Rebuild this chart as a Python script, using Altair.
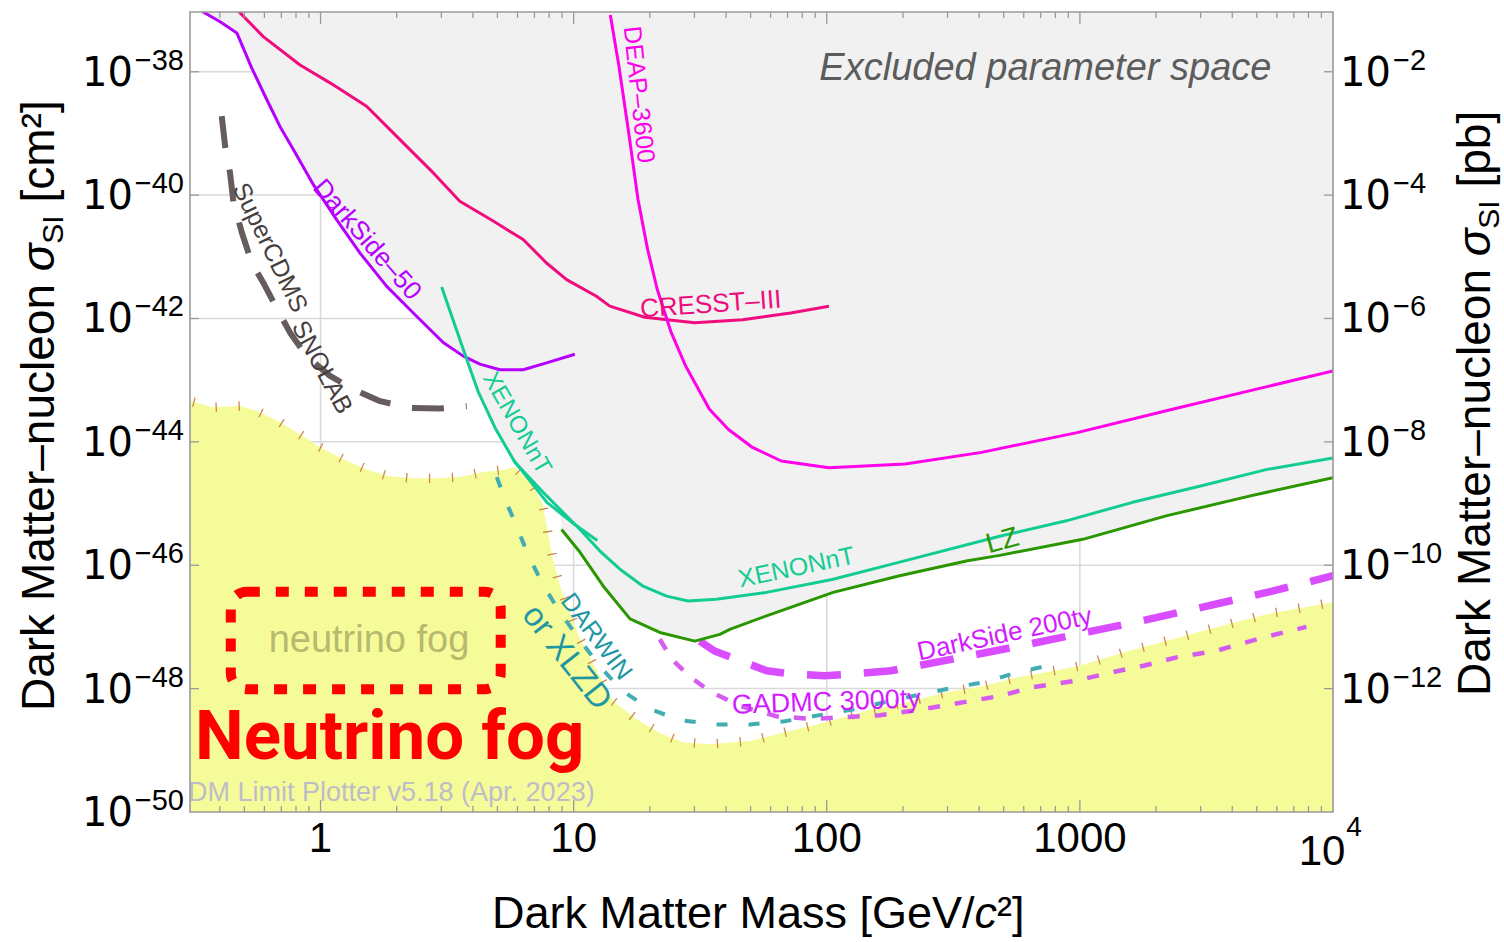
import numpy as np
import pandas as pd
import altair as alt

# ---------------------------------------------------------------
# Data.  Masses in GeV/c^2,
# cross sections stored as log10(sigma / cm^2).
# ---------------------------------------------------------------
ds50_mass = [0.340, 0.401, 0.467, 0.535, 0.613, 0.692, 0.781, 0.937, 1.159, 1.432,
             1.826, 2.325, 3.053, 3.664, 4.264, 5.112, 6.318, 7.816, 10.11]
ds50_logsig = [-37.02, -37.19, -37.37, -37.94, -38.45, -38.89, -39.26, -39.83, -40.40, -40.94,
               -41.48, -41.91, -42.39, -42.61, -42.74, -42.83, -42.83, -42.72, -42.58]

cresst_mass = [0.474, 0.594, 0.830, 1.09, 1.52, 2.19, 2.79, 3.55, 4.81, 6.32,
               7.81, 9.38, 12.3, 13.9, 19.1, 30.1, 46.5, 72.0, 102]
cresst_logsig = [-37.02, -37.43, -37.89, -38.18, -38.56, -39.21, -39.64, -40.10, -40.42, -40.72,
                 -41.10, -41.37, -41.64, -41.80, -41.98, -42.07, -42.02, -41.91, -41.80]

deap_mass = [13.96, 15.1, 16.5, 17.96, 19.6, 21.4, 24.3, 27.7, 34.4, 40.9,
             50.9, 66.1, 102, 204, 409, 975, 2320, 5540, 10000]
deap_logsig = [-37.08, -37.91, -38.99, -40.07, -40.88, -41.53, -42.23, -42.77, -43.47, -43.80,
               -44.09, -44.31, -44.42, -44.36, -44.17, -43.85, -43.47, -43.10, -42.85]

xenon_mass = [3.01, 3.78, 4.19, 4.89, 5.86, 7.84, 10.6, 12.7, 15.2, 18.8, 23.3,
              28.3, 36.6, 57.7, 105, 194, 482, 884, 1615, 2972, 5440, 10000]
xenon_logsig = [-41.49, -42.66, -43.18, -43.77, -44.33, -44.88, -45.42, -45.77, -46.06, -46.34, -46.50,
                -46.58, -46.55, -46.44, -46.23, -45.95, -45.53, -45.28, -44.98, -44.72, -44.45, -44.26]

xenon_low_mass = [5.75, 7.84, 10.1, 12.4]
xenon_low_logsig = [-44.28, -44.98, -45.34, -45.60]

lz_mass = [8.96, 10.6, 13.1, 16.7, 21.9, 30.1, 37.8, 41.4, 57.8, 106,
           194, 356, 482, 1027, 2190, 4670, 10000]
lz_logsig = [-45.42, -45.79, -46.34, -46.87, -47.09, -47.23, -47.12, -47.04, -46.82, -46.44,
             -46.17, -45.93, -45.84, -45.58, -45.20, -44.88, -44.58]

cdms_mass = [0.407, 0.420, 0.439, 0.453, 0.489, 0.535, 0.594, 0.671, 0.758, 0.882,
             1.09, 1.35, 1.72, 2.26, 2.96, 3.78]
cdms_logsig = [-38.72, -39.21, -39.64, -40.12, -40.61, -41.10, -41.42, -41.83, -42.23, -42.61,
               -42.93, -43.15, -43.34, -43.45, -43.46, -43.42]

ds200_mass = [31.5, 36.0, 43.7, 57.9, 72.0, 98.1, 121, 179, 222, 344, 578, 1205, 1672, 2825, 5760, 10000]
ds200_logsig = [-47.23, -47.39, -47.52, -47.71, -47.76, -47.79, -47.77, -47.71, -47.64, -47.49,
                -47.31, -47.04, -46.92, -46.71, -46.42, -46.17]

gadmc_mass = [21.9, 24.4, 28.8, 35.1, 45.3, 63.4, 87.9, 120, 162, 218, 314, 482, 644, 975,
              1322, 1783, 2430, 3434, 5310, 7850]
gadmc_logsig = [-47.20, -47.52, -47.81, -48.06, -48.28, -48.45, -48.49, -48.46, -48.43, -48.36,
                -48.25, -48.12, -47.98, -47.87, -47.74, -47.63, -47.49, -47.39, -47.17, -47.00]

darwin_mass = [4.97, 5.35, 5.86, 6.59, 7.55, 8.82, 10.4, 12.7, 15.5, 20.0, 26.3, 36.1, 49.6,
               68.2, 93.7, 130, 174, 237, 320, 424, 552, 794]
darwin_logsig = [-44.57, -44.93, -45.30, -45.82, -46.31, -46.76, -47.17, -47.64, -48.03, -48.33,
                 -48.51, -48.58, -48.58, -48.53, -48.43, -48.33, -48.21, -48.09, -47.98, -47.89,
                 -47.75, -47.60]

fog_mass = [0.305, 0.376, 0.481, 0.561, 0.692, 0.830, 1.0, 1.23, 1.53, 1.83, 2.32, 2.88, 3.55,
            4.38, 5.35, 5.86, 6.84, 7.55, 7.91, 8.28, 8.83, 9.66, 10.6, 12.4, 14.3, 17.6, 21.9,
            27.0, 34.5, 49.6, 69.5, 100, 144, 207, 298, 413, 578, 975, 1500, 2320, 3590, 5530, 10000]
fog_logsig = [-43.34, -43.44, -43.42, -43.50, -43.68, -43.88, -44.09, -44.28, -44.45, -44.55,
              -44.59, -44.59, -44.57, -44.49, -44.45, -44.41, -44.69, -45.01, -45.47, -45.90,
              -46.34, -46.76, -47.20, -47.72, -48.20, -48.49, -48.72, -48.87, -48.90, -48.85,
              -48.70, -48.54, -48.36, -48.22, -48.06, -47.96, -47.81, -47.64, -47.41, -47.20,
              -46.99, -46.79, -46.60]

# lower edge of the excluded (grey) region
excl_mass = [0.340, 0.401, 0.467, 0.535, 0.613, 0.692, 0.781, 0.937, 1.159, 1.432, 1.826, 2.325,
             3.053, 3.664, 3.78, 4.19, 4.89, 5.86, 7.84, 8.83, 8.96, 10.6, 13.1, 16.7, 21.9, 30.1,
             37.8, 41.4, 57.8, 106, 194, 356, 482, 1027, 2190, 4670, 10000]
excl_logsig = [-37.02, -37.19, -37.37, -37.94, -38.45, -38.89, -39.26, -39.83, -40.40, -40.94,
               -41.48, -41.91, -42.39, -42.61, -42.66, -43.18, -43.77, -44.33, -44.88, -45.11,
               -45.42, -45.79, -46.34, -46.87, -47.09, -47.23, -47.12, -47.04, -46.82, -46.44,
               -46.17, -45.93, -45.84, -45.58, -45.20, -44.88, -44.58]

# axes
x_label_values = [1, 10, 100, 1000]
x_label_texts = ["1", "10", "100", "1000"]
x_major_ticks = [1, 10, 100, 1000]
x_minor_mantissas = [2, 3, 4, 5, 6, 7, 8, 9]
x_minor_decades = [0.1, 1, 10, 100, 1000]
y_left_exponents = [-38, -40, -42, -44, -46, -48, -50]
y_right_exponents = [-2, -4, -6, -8, -10, -12]   # in pb
PB_TO_CM2 = 1e-36

# ---------------------------------------------------------------
W, H = 1143, 800
X_DOMAIN = [0.305, 1e4]
Y_DOMAIN = [1e-50, 9.3e-38]
XS = alt.Scale(type="log", domain=X_DOMAIN, nice=False)
YS = alt.Scale(type="log", domain=Y_DOMAIN, nice=False)
FONT = "Liberation Sans"

C_DS50 = "#b600ff"
C_CRESST = "#f00c7e"
C_DEAP = "#ff00ea"
C_XENON = "#12cc93"
C_LZ = "#2a9600"
C_CDMS = "#655d5d"
C_DS200 = "#d94cff"
C_GADMC = "#d45cf0"
C_DARWIN = "#41adb2"
C_DARWIN_TXT = "#1f97a2"
C_MAG_TXT = "#d21cff"


def X(field="m"):
    return alt.X(f"{field}:Q", scale=XS, axis=None)


def Y(field="s"):
    return alt.Y(f"{field}:Q", scale=YS, axis=None, stack=None)


def frame(m, logs):
    return pd.DataFrame({"m": m, "s": [10.0 ** v for v in logs], "i": list(range(len(m)))})


def curve(m, logs, color, width, dash=None):
    props = dict(color=color, strokeWidth=width, clip=True, strokeCap="butt", strokeJoin="round")
    if dash:
        props["strokeDash"] = dash
    return alt.Chart(frame(m, logs)).mark_line(**props).encode(x=X(), y=Y(), order="i:Q")


def data_text(text, m, s, color, size, angle=0, align="center", baseline="middle",
              font=FONT, dx=0, dy=0, **kw):
    df = pd.DataFrame({"m": [m], "s": [s], "t": [text]})
    return alt.Chart(df).mark_text(color=color, fontSize=size, angle=angle % 360, align=align,
                                   baseline=baseline, font=font, dx=dx, dy=dy, **kw).encode(
        x=X(), y=Y(), text="t:N")


def px_text(text, px, py, color, size, angle=0, align="left", baseline="alphabetic",
            font=FONT, dx=0, dy=0, **kw):
    df = pd.DataFrame({"t": [text]})
    return alt.Chart(df).mark_text(color=color, fontSize=size, angle=angle % 360, align=align,
                                   baseline=baseline, font=font, dx=dx, dy=dy, **kw).encode(
        x=alt.value(px), y=alt.value(py), text="t:N")


def exp_text(e):
    return str(e).replace("-", "−")


layers = []

# grid lines
layers.append(alt.Chart(pd.DataFrame({"m": x_major_ticks})).mark_rule(
    color="#d9d9d9", strokeWidth=1.5).encode(x=X(), y=alt.value(0), y2=alt.value(H)))
layers.append(alt.Chart(pd.DataFrame({"s": [10.0 ** e for e in y_left_exponents[:-1]]})).mark_rule(
    color="#d9d9d9", strokeWidth=1.5).encode(y=Y(), x=alt.value(0), x2=alt.value(W)))

# excluded region (from its lower edge up to the top of the plot)
excl_df = frame(excl_mass, excl_logsig)
excl_df["top"] = Y_DOMAIN[1]
layers.append(alt.Chart(excl_df).mark_area(
    fill="#f1f1f1", orient="vertical", clip=True).encode(
    x=X(), y=Y(), y2="top:Q"))

# neutrino fog (from the floor up to its edge)
fog_df = frame(fog_mass, fog_logsig)
fog_df["floor"] = Y_DOMAIN[0]
layers.append(alt.Chart(fog_df).mark_area(
    fill="#f6fb9a", orient="vertical").encode(
    x=X(), y=Y(), y2="floor:Q"))

# hatch strokes along the fog edge (decoration, spaced along the drawn edge)
lx0, lx1 = np.log10(X_DOMAIN)
ly0, ly1 = np.log10(Y_DOMAIN)
bx = (np.log10(fog_mass) - lx0) / (lx1 - lx0) * W
by = (ly1 - np.array(fog_logsig)) / (ly1 - ly0) * H
seg = np.hypot(np.diff(bx), np.diff(by))
cum = np.concatenate([[0.0], np.cumsum(seg)])
hatch_rows = []
for p in np.arange(4.0, cum[-1] - 3, 23.0):
    k = min(int(np.searchsorted(cum, p, side="right") - 1), len(seg) - 1)
    t = (p - cum[k]) / seg[k]
    hx = bx[k] + t * (bx[k + 1] - bx[k])
    hy = by[k] + t * (by[k + 1] - by[k])
    ang = float(np.degrees(np.arctan2(by[k + 1] - by[k], bx[k + 1] - bx[k])) % 360)
    hatch_rows.append({"m": 10 ** (lx0 + hx / W * (lx1 - lx0)),
                       "s": 10 ** (ly1 - hy / H * (ly1 - ly0)), "a": ang})
layers.append(alt.Chart(pd.DataFrame(hatch_rows)).mark_point(
    shape="M0,-1L0,1", filled=False, stroke="#c88a4e", strokeWidth=1.3, size=90,
    opacity=1, clip=True).encode(x=X(), y=Y(), angle=alt.Angle("a:Q", scale=None)))

# projections (dashed)
layers.append(curve(darwin_mass, darwin_logsig, C_DARWIN, 4, [11, 21]))
layers.append(curve(gadmc_mass, gadmc_logsig, C_GADMC, 4.5, [12, 15]))
layers.append(curve(ds200_mass, ds200_logsig, C_DS200, 7.5, [34, 23]))
layers.append(curve(cdms_mass, cdms_logsig, C_CDMS, 6, [32, 22]))

# current limits
layers.append(curve(cresst_mass, cresst_logsig, C_CRESST, 3))
layers.append(curve(ds50_mass, ds50_logsig, C_DS50, 3))
layers.append(curve(deap_mass, deap_logsig, C_DEAP, 3))
layers.append(curve(xenon_low_mass, xenon_low_logsig, C_XENON, 3))
layers.append(curve(xenon_mass, xenon_logsig, C_XENON, 3))
layers.append(curve(lz_mass, lz_logsig, C_LZ, 3))

# curve labels
layers.append(data_text("Excluded parameter space", 5710, 7.4e-39, "#5c5c5c", 38,
                        align="right", baseline="alphabetic", fontStyle="italic"))
layers.append(data_text("DarkSide–50", 1.526, 1.9e-41, C_DS50, 26, angle=49))
layers.append(data_text("SuperCDMS", 0.632, 1.41e-41, "#463f3f", 25, angle=64))
layers.append(data_text("SNOLAB", 1.014, 1.62e-43, "#463f3f", 25, angle=62))
layers.append(data_text("XENONnT", 5.95, 2.0e-44, C_XENON, 24, angle=60))
layers.append(data_text("CRESST–III", 34.8, 1.69e-42, C_CRESST, 26, angle=-4))
layers.append(data_text("DEAP–3600", 18.1, 4.25e-39, C_DEAP, 25, angle=84))
layers.append(data_text("XENONnT", 75.9, 9.2e-47, C_XENON, 25, angle=-12))
layers.append(data_text("LZ", 495, 2.45e-46, C_LZ, 28, angle=-15))
layers.append(data_text("DARWIN", 12.3, 7.0e-48, C_DARWIN_TXT, 25, angle=53))
layers.append(data_text("or XLZD", 9.38, 3.2e-48, C_DARWIN_TXT, 33, angle=52))
layers.append(data_text("DarkSide 200ty", 504, 7.6e-48, C_MAG_TXT, 26, angle=-12))
layers.append(data_text("GADMC 3000ty", 99.6, 5.97e-49, C_MAG_TXT, 27, angle=-2))

# neutrino-fog annotation
box = pd.DataFrame({"m": [0.442], "m2": [5.15], "s": [3.72e-47], "s2": [9.77e-49]})
layers.append(alt.Chart(box).mark_rect(
    fillOpacity=0, stroke="#ff0000", strokeWidth=10, strokeDash=[13, 16], cornerRadius=16,
    strokeCap="butt").encode(x=X(), x2="m2:Q", y=Y(), y2="s2:Q"))
layers.append(data_text("neutrino fog", 1.554, 5.87e-48, "#b8b86e", 38))
layers.append(data_text("Neutrino fog", 0.3195, 7.2e-50, "#ff0000", 69, align="left",
                        baseline="alphabetic", font="Roboto", fontWeight="bold"))
layers.append(data_text("DM Limit Plotter v5.18 (Apr. 2023)", 0.305, 1.52e-50, "#bdbdc8", 27,
                        align="left", baseline="alphabetic", dx=-2))

# axis ticks (inward)
x_minor = [mm * d for d in x_minor_decades for mm in x_minor_mantissas
           if X_DOMAIN[0] < mm * d < X_DOMAIN[1]]
tick_col = "#9a9a9a"
for vals, ln in ((x_major_ticks, 12), (x_minor, 6)):
    df = pd.DataFrame({"m": vals})
    layers.append(alt.Chart(df).mark_rule(color=tick_col, strokeWidth=1.3).encode(
        x=X(), y=alt.value(H), y2=alt.value(H - ln)))
    layers.append(alt.Chart(df).mark_rule(color=tick_col, strokeWidth=1.3).encode(
        x=X(), y=alt.value(0), y2=alt.value(ln)))
ydf = pd.DataFrame({"s": [10.0 ** e for e in y_left_exponents[:-1]]})
layers.append(alt.Chart(ydf).mark_rule(color=tick_col, strokeWidth=1.3).encode(
    y=Y(), x=alt.value(0), x2=alt.value(9)))
layers.append(alt.Chart(ydf).mark_rule(color=tick_col, strokeWidth=1.3).encode(
    y=Y(), x=alt.value(W), x2=alt.value(W - 9)))

# frame
layers.append(alt.Chart(pd.DataFrame({"k": [0]})).mark_rect(
    fillOpacity=0, stroke="#9a9a9a", strokeWidth=1.6).encode(
    x=alt.value(0), x2=alt.value(W), y=alt.value(0), y2=alt.value(H)))

# tick labels: "10" plus a raised exponent
left_df = pd.DataFrame({"s": [10.0 ** e for e in y_left_exponents],
                        "t": [exp_text(e) for e in y_left_exponents]})
layers.append(alt.Chart(left_df).mark_text(
    font="DejaVu Sans", fontSize=40, align="right", baseline="middle", color="black", dy=2,
    text="10").encode(x=alt.value(-57), y=Y()))
layers.append(alt.Chart(left_df).mark_text(
    font=FONT, fontSize=29, align="right", baseline="middle", color="black", dy=-11).encode(
    x=alt.value(-6), y=Y(), text="t:N"))
right_df = pd.DataFrame({"s": [10.0 ** e * PB_TO_CM2 for e in y_right_exponents],
                         "t": [exp_text(e) for e in y_right_exponents]})
layers.append(alt.Chart(right_df).mark_text(
    font="DejaVu Sans", fontSize=40, align="left", baseline="middle", color="black", dy=2,
    text="10").encode(x=alt.value(W + 7), y=Y()))
layers.append(alt.Chart(right_df).mark_text(
    font=FONT, fontSize=29, align="left", baseline="middle", color="black", dy=-11).encode(
    x=alt.value(W + 60), y=Y(), text="t:N"))
xl_df = pd.DataFrame({"m": x_label_values, "t": x_label_texts})
layers.append(alt.Chart(xl_df).mark_text(
    font=FONT, fontSize=42, align="center", baseline="middle", color="black").encode(
    x=X(), y=alt.value(H + 27), text="t:N"))
layers.append(data_text("10", 1e4, 1e-50, "black", 42, dx=-11, dy=40))
layers.append(data_text("4", 1e4, 1e-50, "black", 28, dx=21, dy=16))

# axis titles (rotated titles read bottom-to-top)
SPACE46 = 0.278 * 46
for base_x, base_y, unit in ((-136, 699, "[cm²]"), (1300, 684, "[pb]")):
    layers.append(px_text("Dark Matter–nucleon", base_x, base_y, "black", 46, angle=270))
    layers.append(px_text("σ", base_x, base_y, "black", 46, angle=270, dx=439.7, fontStyle="italic"))
    layers.append(px_text("SI", base_x, base_y, "black", 30, angle=270, dx=467.3, dy=9))
    layers.append(px_text(unit, base_x, base_y, "black", 46, angle=270, dx=495.7 + SPACE46))
layers.append(px_text("Dark Matter Mass [GeV/", 302, 916, "black", 45))
layers.append(px_text("c", 302, 916, "black", 45, dx=482.6, fontStyle="italic"))
layers.append(px_text("²]", 302, 916, "black", 45, dx=505.1))

chart = alt.layer(*layers).properties(
    width=W, height=H,
    autosize=alt.AutoSizeParams(type="none"),
    padding={"left": 190, "top": 12, "right": 171, "bottom": 130},
).configure_view(stroke="transparent")

chart.save("out.html", embed_options={"renderer": "svg", "actions": False})
